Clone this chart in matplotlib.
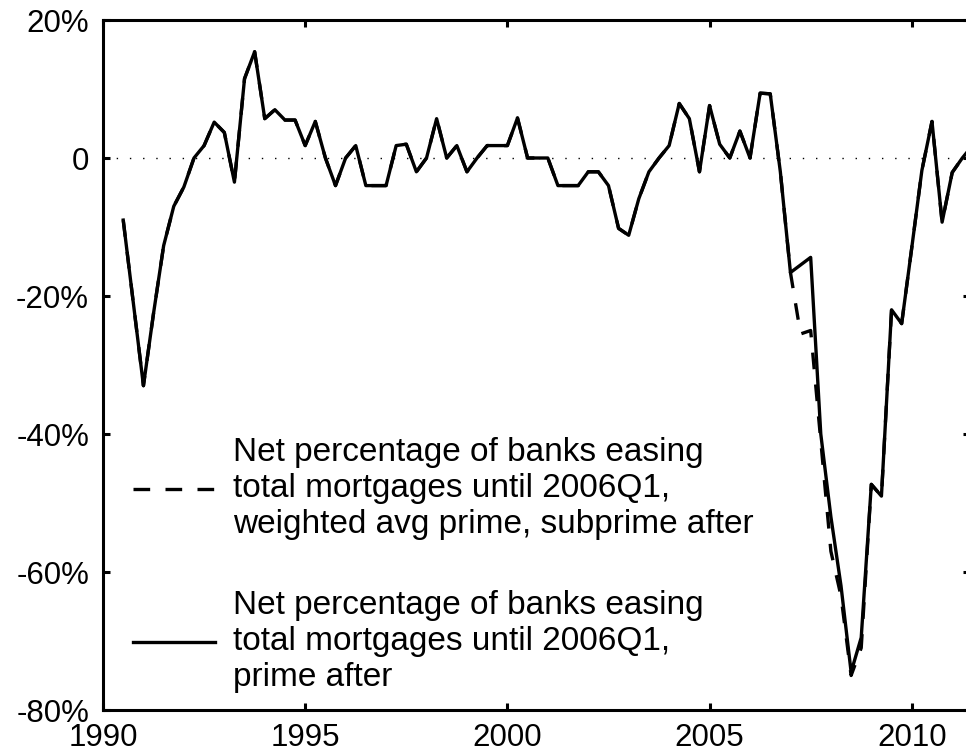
import numpy as np
import matplotlib
matplotlib.use('Agg')
import matplotlib.pyplot as plt

plt.rcParams['font.family'] = ['Liberation Sans', 'DejaVu Sans']

# quarterly survey values, 1990Q3 .. 2011Q3 (net % of banks easing)
start_year = 1990.5
prime_after = [
    -9, -21, -33, -22.5, -12.7, -7, -4.2, 0, 1.8, 5.2,
    3.7, -3.5, 11.5, 15.4, 5.7, 7.0, 5.5, 5.5, 1.8, 5.3,
    0, -4, 0, 1.8, -4, -4, -4, 1.8, 2, -2,
    0, 5.7, 0, 1.8, -2, 0, 1.8, 1.8, 1.8, 5.8,
    0, 0, 0, -4, -4, -4, -2, -2, -4, -10.2,
    -11.2, -5.9, -2, 0, 1.8, 7.9, 5.7, -2, 7.6, 2,
    0, 3.9, 0, 9.4, 9.3, -2, -16.6, -15.5, -14.4, -40,
    -52, -62, -74.5, -69.5, -47.3, -49, -22, -24, -13, -1.8,
    5.3, -9.3, -2.1, 0, 1.8,
]
subprime_after = [
    -9, -21, -33, -22.5, -12.7, -7, -4.2, 0, 1.8, 5.2,
    3.7, -3.5, 11.5, 15.4, 5.7, 7.0, 5.5, 5.5, 1.8, 5.3,
    0, -4, 0, 1.8, -4, -4, -4, 1.8, 2, -2,
    0, 5.7, 0, 1.8, -2, 0, 1.8, 1.8, 1.8, 5.8,
    0, 0, 0, -4, -4, -4, -2, -2, -4, -10.2,
    -11.2, -5.9, -2, 0, 1.8, 7.9, 5.7, -2, 7.6, 2,
    0, 3.9, 0, 9.4, 9.3, -2, -16.6, -25.5, -25, -41,
    -57, -63.5, -75, -71, -47.3, -49, -22, -24, -13, -1.8,
    5.3, -9.3, -2.1, 0, 1.8,
]
dates = start_year + 0.25 * np.arange(len(prime_after))

label_sub = ('Net percentage of banks easing\n'
             'total mortgages until 2006Q1,\n'
             'weighted avg prime, subprime after')
label_prime = ('Net percentage of banks easing\n'
               'total mortgages until 2006Q1,\n'
               'prime after')

x_ticks = [1990, 1995, 2000, 2005, 2010]
y_ticks = [20, 0, -20, -40, -60, -80]
y_tick_labels = ['20%', '0', '-20%', '-40%', '-60%', '-80%']

fig = plt.figure(figsize=(9.66, 7.52), dpi=100)
ax = fig.add_axes([103 / 966, 42 / 752, 867 / 966, 690 / 752])

ax.axhline(0, color='black', lw=1.0, linestyle=(0, (1, 8.5)), zorder=1)
ax.plot(dates, subprime_after, color='black', lw=2.4, dashes=(5, 4.6),
        label=label_sub, zorder=2)
ax.plot(dates, prime_after, color='black', lw=2.4, label=label_prime, zorder=3)

ax.set_xlim(1990, 2011.44)
ax.set_ylim(-80, 20)
ax.set_xticks(x_ticks)
ax.set_yticks(y_ticks)
ax.set_yticklabels(y_tick_labels)
ax.tick_params(direction='in', length=5, width=2.2, labelsize=22.5,
               top=True, right=True, pad=10)
ax.tick_params(axis='x', pad=9)
for s in ax.spines.values():
    s.set_linewidth(2.2)

leg = ax.legend(loc='upper left', bbox_to_anchor=(0.0346, 0.395),
                frameon=False, fontsize=24, handlelength=2.46,
                handletextpad=0.55, labelspacing=1.5,
                borderpad=0, borderaxespad=0)
for t in leg.get_texts():
    t.set_linespacing(1.2)

fig.savefig('out.png', dpi=100)
